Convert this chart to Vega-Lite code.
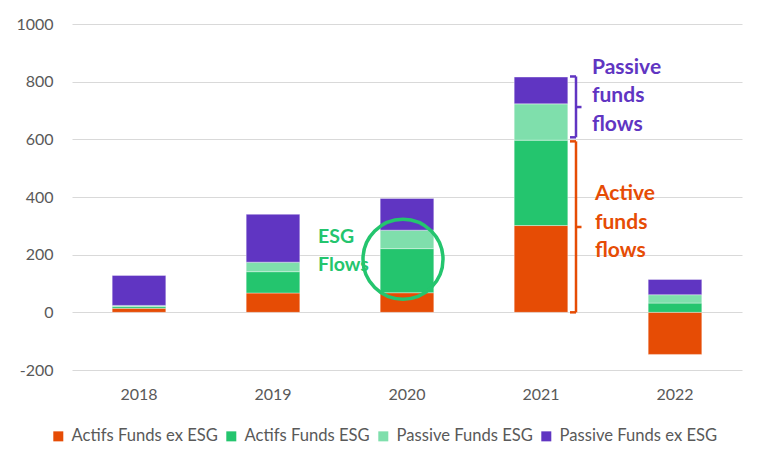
{
  "$schema": "https://vega.github.io/schema/vega-lite/v6.json",
  "width": 670,
  "height": 346,
  "autosize": {"type": "none"},
  "padding": {"left": 72, "top": 24, "right": 26, "bottom": 100},
  "background": "#ffffff",
  "config": {
    "view": {"stroke": null},
    "font": "Lato",
    "axis": {"labelFont": "Lato", "labelColor": "#595959", "labelFontSize": 16, "gridColor": "#d9d9d9", "domain": false, "ticks": false},
    "legend": {"labelFont": "Lato", "labelColor": "#595959", "labelFontSize": 16.6}
  },
  "layer": [
    {
      "data": {
        "values": [
          {"year": "2018", "series": "Actifs Funds ex ESG", "k": 1, "value": 14},
          {"year": "2018", "series": "Actifs Funds ESG", "k": 2, "value": 6},
          {"year": "2018", "series": "Passive Funds ESG", "k": 3, "value": 4},
          {"year": "2018", "series": "Passive Funds ex ESG", "k": 4, "value": 104},
          {"year": "2019", "series": "Actifs Funds ex ESG", "k": 1, "value": 67},
          {"year": "2019", "series": "Actifs Funds ESG", "k": 2, "value": 74},
          {"year": "2019", "series": "Passive Funds ESG", "k": 3, "value": 33},
          {"year": "2019", "series": "Passive Funds ex ESG", "k": 4, "value": 166},
          {"year": "2020", "series": "Actifs Funds ex ESG", "k": 1, "value": 68},
          {"year": "2020", "series": "Actifs Funds ESG", "k": 2, "value": 153},
          {"year": "2020", "series": "Passive Funds ESG", "k": 3, "value": 64},
          {"year": "2020", "series": "Passive Funds ex ESG", "k": 4, "value": 110},
          {"year": "2021", "series": "Actifs Funds ex ESG", "k": 1, "value": 301},
          {"year": "2021", "series": "Actifs Funds ESG", "k": 2, "value": 296},
          {"year": "2021", "series": "Passive Funds ESG", "k": 3, "value": 126},
          {"year": "2021", "series": "Passive Funds ex ESG", "k": 4, "value": 93},
          {"year": "2022", "series": "Actifs Funds ex ESG", "k": 1, "value": -146},
          {"year": "2022", "series": "Actifs Funds ESG", "k": 2, "value": 32},
          {"year": "2022", "series": "Passive Funds ESG", "k": 3, "value": 29},
          {"year": "2022", "series": "Passive Funds ex ESG", "k": 4, "value": 53}
        ]
      },
      "mark": {"type": "bar", "stroke": "#ffffff", "strokeWidth": 0.6, "strokeOpacity": 0.6},
      "encoding": {
        "x": {"field": "year", "type": "nominal", "scale": {"paddingInner": 0.6, "paddingOuter": 0.3},
              "axis": {"title": null, "labelAngle": 0, "labelPadding": 16, "grid": false}},
        "y": {"field": "value", "type": "quantitative", "stack": "zero",
              "scale": {"domain": [-200, 1000], "nice": false},
              "axis": {"title": null, "values": [-200, 0, 200, 400, 600, 800, 1000], "labelPadding": 19, "labelExpr": "'' + datum.value"}},
        "color": {"field": "series", "type": "nominal",
                  "scale": {"domain": ["Actifs Funds ex ESG", "Actifs Funds ESG", "Passive Funds ESG", "Passive Funds ex ESG"],
                            "range": ["#e64c05", "#24c56e", "#7fdfac", "#6035c2"]},
                  "legend": {"title": null, "orient": "none", "legendX": -22, "legendY": 404, "direction": "horizontal", "symbolType": "square", "symbolSize": 100, "symbolStrokeWidth": 0, "columnPadding": 5, "labelOffset": 5, "labelLimit": 300}},
        "order": {"field": "k", "type": "quantitative"}
      }
    },
    {
      "data": {"values": [{"year": "2020", "value": 184}]},
      "mark": {"type": "point", "shape": "circle", "filled": false, "stroke": "#24c56e", "strokeWidth": 3.5, "size": 6400, "xOffset": -4, "opacity": 1},
      "encoding": {"x": {"field": "year", "type": "nominal"}, "y": {"field": "value", "type": "quantitative"}}
    },
    {
      "data": {"values": [
        {"year": "2020", "value": 263, "label": "ESG\nFlows"}
      ]},
      "mark": {"type": "text", "align": "left", "baseline": "middle", "dx": -89, "fontWeight": "bold", "fontSize": 19.5, "lineHeight": 28, "lineBreak": "\n", "color": "#24c56e"},
      "encoding": {"x": {"field": "year", "type": "nominal"}, "y": {"field": "value", "type": "quantitative"}, "text": {"field": "label"}}
    },
    {
      "data": {"values": [
        {"year": "2021", "value": 849, "label": "Passive\nfunds\nflows"}
      ]},
      "mark": {"type": "text", "align": "left", "baseline": "middle", "dx": 51, "fontWeight": "bold", "fontSize": 21, "lineHeight": 28.5, "lineBreak": "\n", "color": "#6035c2"},
      "encoding": {"x": {"field": "year", "type": "nominal"}, "y": {"field": "value", "type": "quantitative"}, "text": {"field": "label"}}
    },
    {
      "data": {"values": [
        {"year": "2021", "value": 409, "label": "Active\nfunds\nflows"}
      ]},
      "mark": {"type": "text", "align": "left", "baseline": "middle", "dx": 54, "fontWeight": "bold", "fontSize": 21, "lineHeight": 28.5, "lineBreak": "\n", "color": "#e64c05"},
      "encoding": {"x": {"field": "year", "type": "nominal"}, "y": {"field": "value", "type": "quantitative"}, "text": {"field": "label"}}
    },
    {
      "data": {"values": [
        {"year": "2021", "lo": 607, "hi": 818, "grp": "passive"},
        {"year": "2021", "lo": 0, "hi": 593, "grp": "active"}
      ]},
      "mark": {"type": "rule", "strokeWidth": 2.5, "xOffset": 35},
      "encoding": {
        "x": {"field": "year", "type": "nominal"},
        "y": {"field": "lo", "type": "quantitative"},
        "y2": {"field": "hi"},
        "color": {"field": "grp", "type": "nominal", "scale": {"domain": ["passive", "active"], "range": ["#6035c2", "#e64c05"]}, "legend": null}
      }
    },
    {
      "data": {"values": [
        {"year": "2021", "v": 818, "grp": "passive"},
        {"year": "2021", "v": 607, "grp": "passive"},
        {"year": "2021", "v": 593, "grp": "active"},
        {"year": "2021", "v": 0, "grp": "active"}
      ]},
      "mark": {"type": "tick", "orient": "horizontal", "size": 6, "thickness": 2.5, "xOffset": 32, "opacity": 1},
      "encoding": {
        "x": {"field": "year", "type": "nominal"},
        "y": {"field": "v", "type": "quantitative"},
        "color": {"field": "grp", "type": "nominal", "scale": {"domain": ["passive", "active"], "range": ["#6035c2", "#e64c05"]}, "legend": null}
      }
    },
    {
      "data": {"values": [
        {"year": "2021", "v": 712, "grp": "passive"},
        {"year": "2021", "v": 296, "grp": "active"}
      ]},
      "mark": {"type": "tick", "orient": "horizontal", "size": 5, "thickness": 2.5, "xOffset": 38, "opacity": 1},
      "encoding": {
        "x": {"field": "year", "type": "nominal"},
        "y": {"field": "v", "type": "quantitative"},
        "color": {"field": "grp", "type": "nominal", "scale": {"domain": ["passive", "active"], "range": ["#6035c2", "#e64c05"]}, "legend": null}
      }
    }
  ],
  "resolve": {"scale": {"color": "independent"}, "legend": {"color": "independent"}}
}
